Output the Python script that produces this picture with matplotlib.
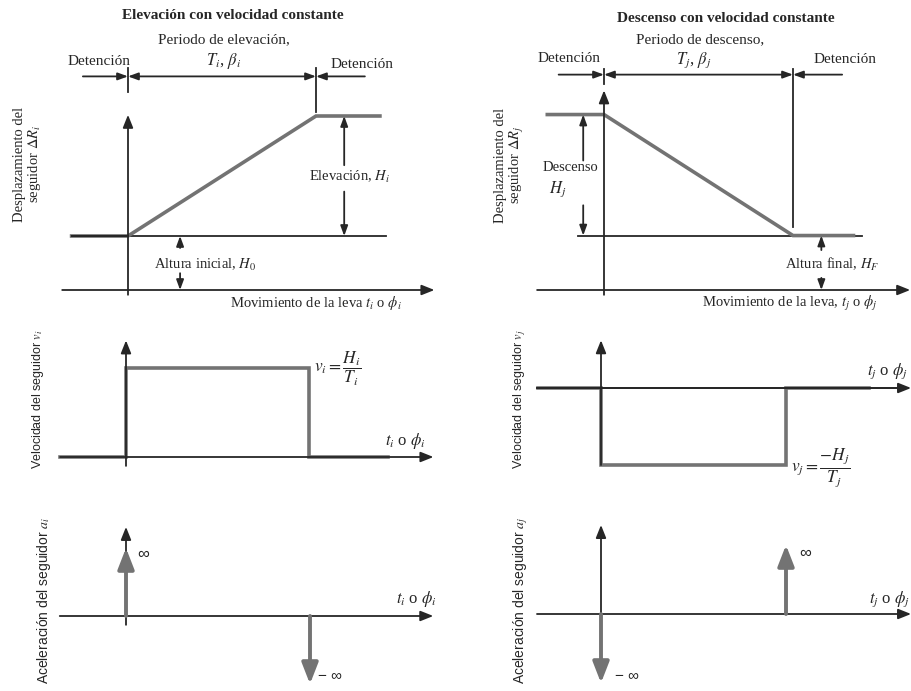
import matplotlib.pyplot as plt

plt.rcParams['mathtext.fontset'] = 'stix'
SERIF = ['Liberation Serif', 'DejaVu Serif']
SANS = ['Liberation Sans', 'DejaVu Sans']
AX = '#262626'
PROF = '#737373'
TXT = '#262626'

W, H = 912, 691

# perfil de elevacion (t en unidades del periodo, desplazamiento en unidades de H)
H0 = 0.45
Hi = 1.0
rise_t = [-0.30, 0.0, 1.0, 1.34]
rise_s = [H0, H0, H0 + Hi, H0 + Hi]
vel_rise_t = [-0.36, 0.0, 0.0, 1.0, 1.0, 1.43]
vel_rise_v = [0, 0, 1, 1, 0, 0]
acc_rise_t = [0.0, 1.0]
acc_rise_a = [1.0, -1.0]

# perfil de descenso
HF = 0.45
Hj = 1.0
fall_t = [-0.30, 0.0, 1.0, 1.32]
fall_s = [HF + Hj, HF + Hj, HF, HF]
vel_fall_t = [-0.34, 0.0, 0.0, 1.0, 1.0, 1.45]
vel_fall_v = [0, 0, -1, -1, 0, 0]
acc_fall_t = [0.0, 1.0]
acc_fall_a = [-1.0, 1.0]

fig = plt.figure(figsize=(W / 100, H / 100), dpi=100)
fig.patch.set_facecolor('white')

ov = fig.add_axes([0, 0, 1, 1])
ov.set_xlim(0, W)
ov.set_ylim(H, 0)
ov.axis('off')


def panel(box, x0, x1, y0, y1):
    L, T, R, B = box
    ax = fig.add_axes([L / W, 1 - B / H, (R - L) / W, (B - T) / H])
    sx = x1 - x0
    sy = y0 - y1
    ax.set_xlim((L - x0) / sx, (R - x0) / sx)
    ax.set_ylim((y0 - B) / sy, (y0 - T) / sy)
    ax.axis('off')
    return ax


def arrow(ax, tail, tip, color=AX, lw=1.3, hl=0.7, hw=0.28, ms=11, style='-|>'):
    ax.annotate('', xy=tip, xytext=tail, annotation_clip=False,
                arrowprops=dict(arrowstyle=f'{style},head_length={hl},head_width={hw}',
                                color=color, lw=lw, mutation_scale=ms,
                                shrinkA=0, shrinkB=0))


def impulse(ax, t, a):
    arrow(ax, (t, 0), (t, a), color=PROF, lw=2.8, hl=0.9, hw=0.35, ms=14)


def dims(ax, sd, tick0, tick1):
    arrow(ax, (-0.24, sd), (0, sd), hl=0.6, hw=0.22, ms=10)
    arrow(ax, (0, sd), (1, sd), style='<|-|>', hl=0.6, hw=0.22, ms=10)
    arrow(ax, (1.26, sd), (1, sd), hl=0.6, hw=0.22, ms=10)
    ax.plot([0, 0], tick0, color=AX, lw=1.3)
    ax.plot([1, 1], tick1, color=AX, lw=1.3)


def txt(x, y, s, size=10.5, fam=SERIF, **kw):
    kw.setdefault('ha', 'center')
    kw.setdefault('va', 'center')
    ov.text(x, y, s, fontsize=size, family=fam, color=TXT, **kw)


# ---------------- columna izquierda: elevacion ----------------
ax = panel((50, 55, 445, 300), 128, 316, 290, 170)
dims(ax, 1.78, [1.85, 1.65], [1.85, 1.48])
arrow(ax, (-0.35, 0), (1.63, 0))
arrow(ax, (0, -0.04), (0, 1.46))
ax.plot([rise_t[0], 1.37], [H0, H0], color=AX, lw=1.3)
ax.plot(rise_t, rise_s, color=PROF, lw=2.6, solid_joinstyle='miter')
ax.plot([rise_t[0], 0], [H0, H0], color=AX, lw=1.5)
arrow(ax, (1.15, H0 + 0.59), (1.15, H0 + Hi), hl=0.6, hw=0.22, ms=10)
arrow(ax, (1.15, H0 + 0.37), (1.15, H0), hl=0.6, hw=0.22, ms=10)
arrow(ax, (0.277, 0.35), (0.277, H0), hl=0.6, hw=0.22, ms=10)
arrow(ax, (0.277, 0.14), (0.277, 0), hl=0.6, hw=0.22, ms=10)

ax = panel((50, 330, 445, 475), 126, 309, 457, 368)
arrow(ax, (-0.36, 0), (1.68, 0))
arrow(ax, (0, -0.1), (0, 1.31))
ax.plot(vel_rise_t, vel_rise_v, color=PROF, lw=2.6, solid_joinstyle='miter')

ax = panel((50, 520, 445, 690), 126, 310, 616, 548)
arrow(ax, (-0.36, 0), (1.67, 0))
arrow(ax, (0, -0.13), (0, 1.31))
for t, a in zip(acc_rise_t, acc_rise_a):
    impulse(ax, t, a)

txt(233, 15, 'Elevación con velocidad constante', size=11, weight='bold')
txt(224, 40, 'Periodo de elevación,', size=11)
txt(224, 61, r'$T_i$, $\beta_i$', size=12)
txt(99, 61, 'Detención', size=11)
txt(362, 64, 'Detención', size=11)
txt(309, 177, r'Elevación, $H_i$', ha='left', backgroundcolor='white')
txt(205, 265, r'Altura inicial, $H_0$')
txt(316, 303, r'Movimiento de la leva $t_i$ o $\phi_i$')
txt(28, 164, 'Desplazamiento del\nseguidor $\\Delta R_i$', rotation=90,
    multialignment='center', linespacing=1.05)
txt(314, 369, r'$v_i = \dfrac{H_i}{T_i}$', size=12.5, ha='left')
txt(405, 441, r'$t_i$ o $\phi_i$', size=12)
txt(38, 399, r'Velocidad del seguidor $v_i$', size=9, fam=SANS, rotation=90)
txt(137, 554, '∞', size=12, fam=SANS, ha='left')
txt(318, 676, '− ∞', size=11, fam=SANS, ha='left')
txt(416, 599, r'$t_i$ o $\phi_i$', size=12)
txt(44, 600, r'Aceleración del seguidor $a_i$', size=10, fam=SANS, rotation=90)

# ---------------- columna derecha: descenso ----------------
ax = panel((525, 55, 912, 300), 604, 793, 290, 169)
dims(ax, 1.78, [1.83, 1.70], [1.83, 0.52])
arrow(ax, (-0.354, 0), (1.62, 0))
arrow(ax, (0, -0.04), (0, 1.65))
ax.plot([-0.14, 1.365], [HF, HF], color=AX, lw=1.3)
ax.plot(fall_t, fall_s, color=PROF, lw=2.6, solid_joinstyle='miter')
arrow(ax, (-0.11, HF + 0.62), (-0.11, HF + Hj), hl=0.6, hw=0.22, ms=10)
arrow(ax, (-0.11, HF + 0.25), (-0.11, HF), hl=0.6, hw=0.22, ms=10)
arrow(ax, (1.15, 0.33), (1.15, HF), hl=0.6, hw=0.22, ms=10)
arrow(ax, (1.15, 0.10), (1.15, 0), hl=0.6, hw=0.22, ms=10)

ax = panel((525, 330, 912, 480), 601, 786, 388, 311)
arrow(ax, (-0.346, 0), (1.676, 0))
arrow(ax, (0, -1.0), (0, 0.62))
ax.plot(vel_fall_t, vel_fall_v, color=PROF, lw=2.6, solid_joinstyle='miter')
ax.plot([-0.346, 1.6], [0, 0], color=AX, lw=1.3)

ax = panel((525, 520, 912, 690), 601, 786, 614, 545)
arrow(ax, (-0.346, 0), (1.676, 0))
arrow(ax, (0, -0.5), (0, 1.29))
for t, a in zip(acc_fall_t, acc_fall_a):
    impulse(ax, t, a)

txt(726, 18, 'Descenso con velocidad constante', size=11, weight='bold')
txt(700, 40, 'Periodo de descenso,', size=11)
txt(694, 60, r'$T_j$, $\beta_j$', size=12)
txt(569, 58, 'Detención', size=11)
txt(845, 59, 'Detención', size=11)
txt(570, 167, 'Descenso', backgroundcolor='white')
txt(558, 189, r'$H_j$', size=12)
txt(832, 264, r'Altura final, $H_F$')
txt(790, 303, r'Movimiento de la leva, $t_j$ o $\phi_j$')
txt(510, 165, 'Desplazamiento del\nseguidor $\\Delta R_j$', rotation=90,
    multialignment='center', linespacing=1.05)
txt(791, 468, r'$v_j = \dfrac{-H_j}{T_j}$', size=12.5, ha='left')
txt(887, 371, r'$t_j$ o $\phi_j$', size=12)
txt(520, 399, r'Velocidad del seguidor $v_j$', size=9, fam=SANS, rotation=90)
txt(799, 553, '∞', size=12, fam=SANS, ha='left')
txt(615, 676, '− ∞', size=11, fam=SANS, ha='left')
txt(889, 599, r'$t_j$ o $\phi_j$', size=12)
txt(521, 600, r'Aceleración del seguidor $a_j$', size=10, fam=SANS, rotation=90)

fig.savefig('out.png', dpi=100, facecolor='white')
